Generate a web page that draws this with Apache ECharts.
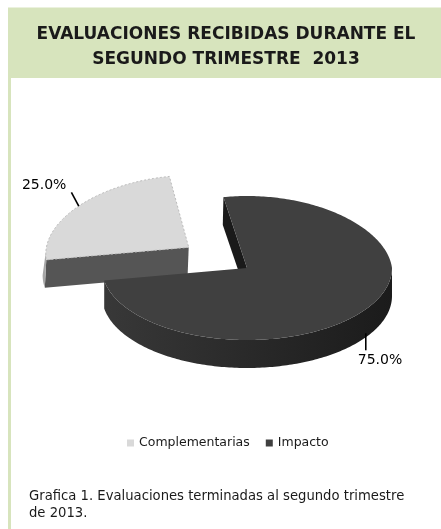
<!DOCTYPE html>
<html>
<head>
<meta charset="utf-8">
<script src="https://cdn.jsdelivr.net/npm/echarts@6/dist/echarts.min.js"></script>
<style>
html, body { margin: 0; padding: 0; background: #fff; }
#main { width: 441px; height: 529px; }
</style>
</head>
<body>
<div id="main"></div>
<script>
var categories = ['Complementarias', 'Impacto'];
var values = [25, 75];
var titleLines = ['EVALUACIONES RECIBIDAS DURANTE EL', 'SEGUNDO TRIMESTRE  2013'];
var captionLines = ['Grafica 1. Evaluaciones terminadas al segundo trimestre', 'de 2013.'];

var myChart = echarts.init(document.getElementById('main'));
var total = values.reduce(function (s, v) { return s + v; }, 0);

// geometry of the tilted (fake 3d) pie
var pie = { cx: 247, cy: 268, rx: 145, ry: 72, depth: 28, startAngle: 190, explode: [0.5, 0], persp: 0.0009 };
var sliceStyle = [
    { top: '#d9d9d9', cut: '#555555', wall: '#a6a6a6', border: '#bdbdbd' },
    {
        top: '#404040', cut: '#1a1a1a', border: null,
        wall: new echarts.graphic.LinearGradient(0, 0, 1, 0, [
            { offset: 0, color: '#383838' },
            { offset: 1, color: '#1b1b1b' }
        ])
    }
];
var font = '"DejaVu Sans", sans-serif';

// slight perspective: things further back look narrower
function project(p) {
    var dy = Math.min(0, p[1] - pie.cy);
    var f = 1 + pie.persp * dy;
    return [pie.cx + (p[0] - pie.cx) * f, p[1]];
}

function renderSlice(params, api) {
    var i = params.seriesIndex;
    var v = api.value(0);
    var before = 0;
    for (var k = 0; k < i; k++) before += values[k];
    var a0 = pie.startAngle - 360 * before / total;
    var a1 = a0 - 360 * v / total;
    var mid = (a0 + a1) / 2;
    var rad = Math.PI / 180;
    var off = pie.explode[i] * pie.rx;
    var cx = pie.cx + off * Math.cos(mid * rad);
    var cy = pie.cy - off * Math.sin(mid * rad) * pie.ry / pie.rx;
    var d = pie.depth;
    var st = sliceStyle[i];
    function pt(a, dy) {
        return project([cx + pie.rx * Math.cos(a * rad), cy - pie.ry * Math.sin(a * rad) + (dy || 0)]);
    }
    var c0 = project([cx, cy]);
    var c1 = project([cx, cy + d]);
    var children = [];

    // cut faces along the radii
    [[a0, a0 + 90], [a1, a1 - 90]].forEach(function (e) {
        if (Math.sin(e[1] * rad) < 0) {
            children.push({
                type: 'polygon',
                shape: { points: [c0, pt(e[0]), pt(e[0], d), c1] },
                style: { fill: st.cut }
            });
        }
    });

    // outer wall, only the part facing the viewer
    var n = Math.ceil(a0 - a1);
    var angles = [];
    for (var j = 0; j <= n; j++) angles.push(a0 - (a0 - a1) * j / n);
    var run = [];
    function flush() {
        if (run.length > 1) {
            var topPts = run.map(function (a) { return pt(a); });
            var botPts = run.slice().reverse().map(function (a) { return pt(a, d); });
            children.push({
                type: 'polygon',
                shape: { points: topPts.concat(botPts) },
                style: { fill: st.wall }
            });
        }
        run = [];
    }
    angles.forEach(function (a) {
        if (Math.sin(a * rad) <= 1e-6) run.push(a); else flush();
    });
    flush();

    // top face
    var face = [c0].concat(angles.map(function (a) { return pt(a); }));
    children.push({
        type: 'polygon',
        shape: { points: face },
        style: st.border
            ? { fill: st.top, stroke: st.border, lineWidth: 1, lineDash: [2, 2] }
            : { fill: st.top }
    });

    // label with leader line
    var text = (v / total * 100).toFixed(1) + '%';
    var s, e, tx, ty, align;
    if (Math.sin(mid * rad) >= 0) {
        s = pt(mid);
        e = [s[0] + 9 * Math.cos(mid * rad), s[1] - 24 * Math.sin(mid * rad)];
        tx = e[0] - 5; ty = e[1] - 7; align = 'right';
    } else {
        s = pt(mid, d - 4);
        e = [s[0], s[1] + 17];
        tx = e[0] - 8; ty = e[1] + 10; align = 'left';
    }
    children.push({
        type: 'line',
        shape: { x1: s[0], y1: s[1], x2: e[0], y2: e[1] },
        style: { stroke: '#000', lineWidth: 1.6 }
    });
    children.push({
        type: 'text',
        style: {
            text: text, x: tx, y: ty, align: align, verticalAlign: 'middle',
            fill: '#000', fontSize: 14, fontFamily: font
        }
    });

    return { type: 'group', children: children };
}

var option = {
    animation: false,
    graphic: [
        {
            type: 'rect', z: 0,
            shape: { x: 9.5, y: 9, width: 440, height: 530 },
            style: { fill: '#fff', stroke: '#d7e4bd', lineWidth: 3 }
        },
        {
            type: 'rect', z: 0,
            shape: { x: 8, y: 9, width: 433, height: 69 },
            style: { fill: '#d7e4bd' }
        }
    ],
    title: [
        {
            text: titleLines.join('\n'),
            left: 226,
            top: 22,
            textAlign: 'center',
            padding: 0,
            textStyle: {
                fontFamily: font, fontWeight: 'bold', fontSize: 17,
                lineHeight: 25, color: '#1a1a1a'
            }
        },
        {
            text: captionLines.join('\n'),
            left: 29,
            top: 488,
            padding: 0,
            textStyle: {
                fontFamily: font, fontWeight: 'normal', fontSize: 13.2,
                lineHeight: 17, color: '#1a1a1a'
            }
        }
    ],
    legend: {
        data: categories,
        left: 127,
        top: 436,
        icon: 'rect',
        itemWidth: 7,
        itemHeight: 7,
        itemGap: 16,
        padding: 0,
        textStyle: { fontFamily: font, fontSize: 12.5, color: '#1a1a1a', lineHeight: 14 }
    },
    series: categories.map(function (name, i) {
        return {
            type: 'custom',
            name: name,
            coordinateSystem: 'none',
            silent: true,
            renderItem: renderSlice,
            itemStyle: { color: sliceStyle[i].top },
            data: [[values[i]]]
        };
    })
};
myChart.setOption(option);
window.addEventListener('resize', function () {
    myChart.resize();
});
</script>
</body>
</html>
